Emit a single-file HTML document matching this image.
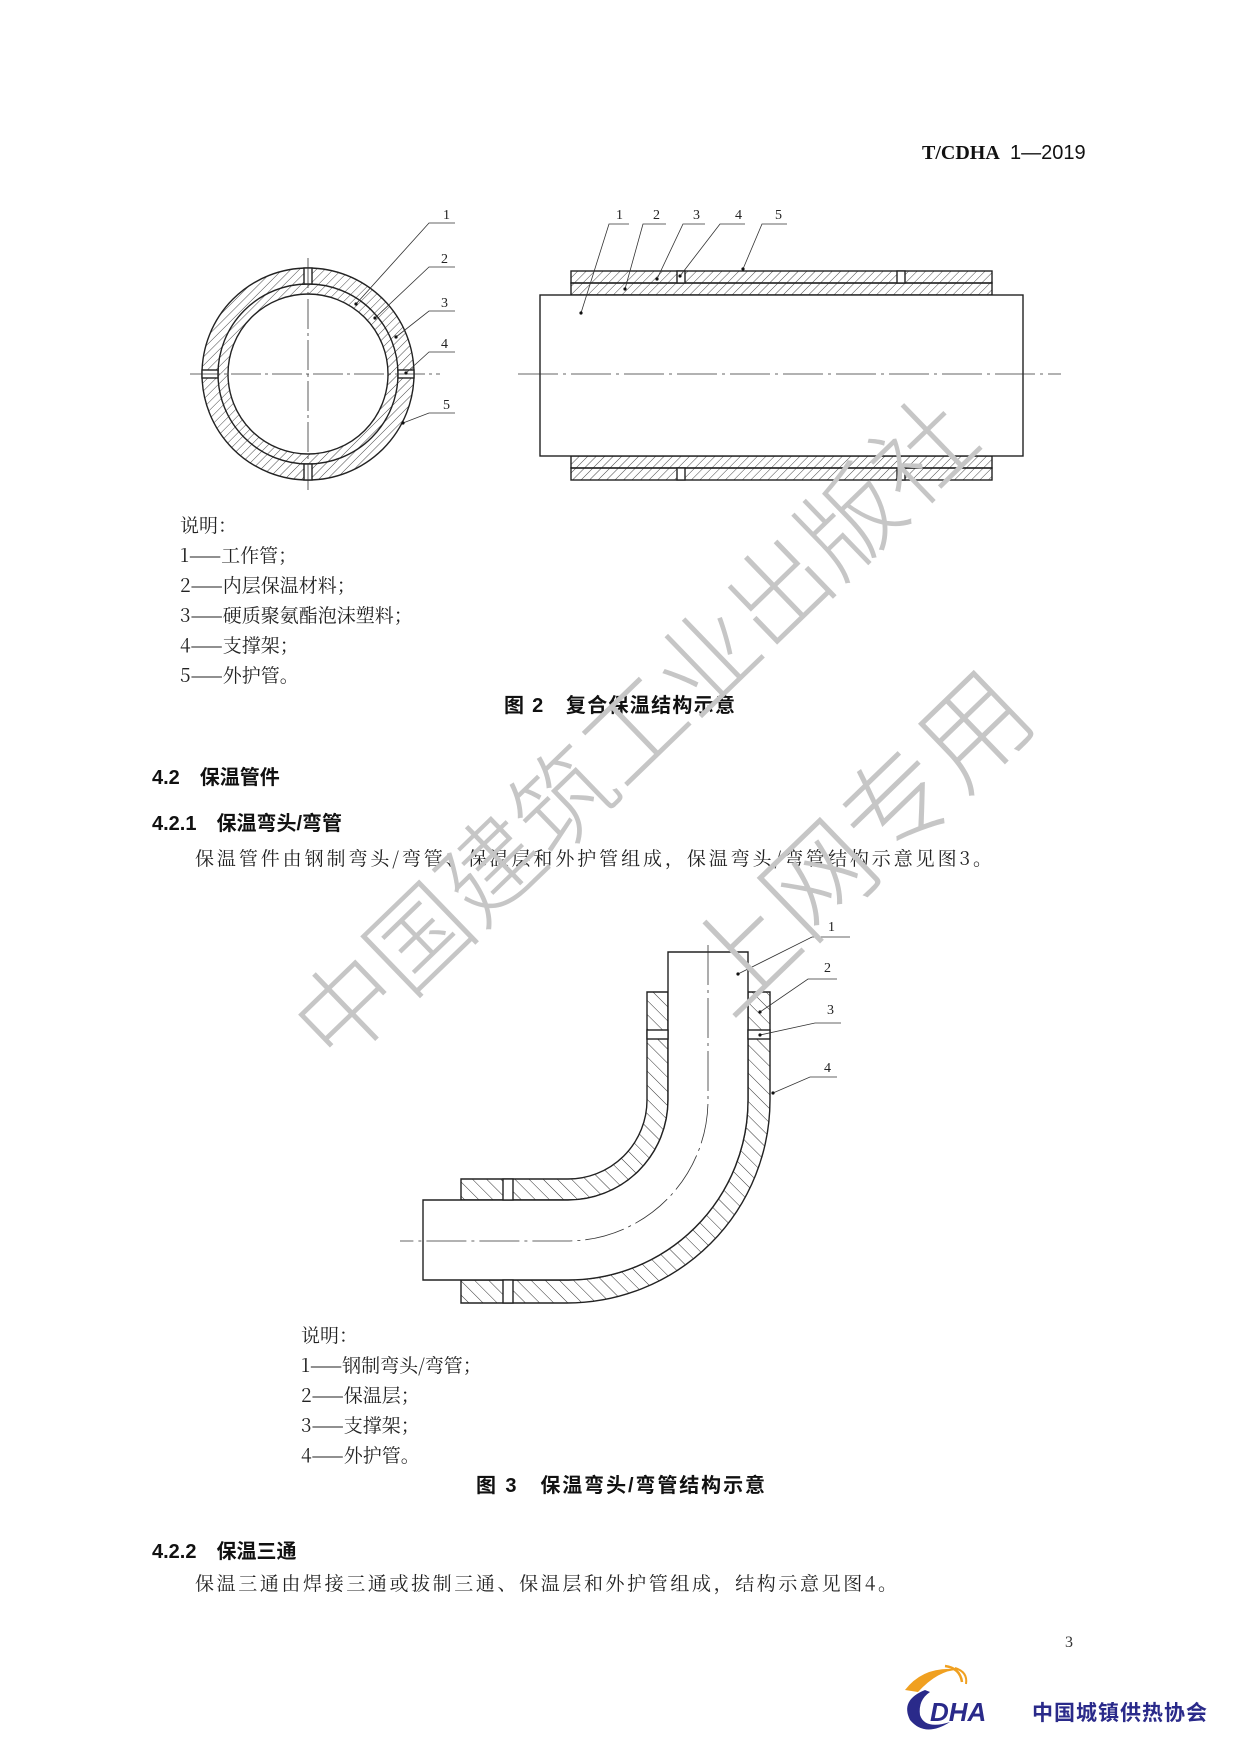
<!DOCTYPE html>
<html><head><meta charset="utf-8"><style>
html,body{margin:0;padding:0;background:#fff}
svg{display:block}
.s{font-family:"Noto Serif CJK SC","Liberation Serif",serif;font-size:19px;fill:#222}
.h{font-family:"Liberation Sans","Noto Sans CJK SC",sans-serif;font-size:20px;fill:#111;font-weight:bold}
.n{font-family:"Liberation Serif",serif;font-size:14px;fill:#222}
</style></head><body>
<svg width="1240" height="1754" viewBox="0 0 1240 1754" xmlns="http://www.w3.org/2000/svg">
<defs>
<pattern id="hf" width="6" height="6" patternUnits="userSpaceOnUse" patternTransform="rotate(45)"><line x1="0" y1="0" x2="0" y2="6" stroke="#333" stroke-width="0.9"/></pattern>
<pattern id="he" width="10" height="10" patternUnits="userSpaceOnUse" patternTransform="rotate(-45)"><line x1="0" y1="0" x2="0" y2="10" stroke="#333" stroke-width="1"/></pattern>
</defs>

<!-- header -->
<text x="922" y="159" font-family="Liberation Serif,serif" font-weight="bold" font-size="20" fill="#111">T/CDHA</text>
<text x="1010" y="159" font-family="Liberation Sans,sans-serif" font-size="20" fill="#111">1—2019</text>

<!-- Fig 2 left circle -->
<g stroke="#222" stroke-width="1.4">
<circle cx="308" cy="374" r="98" fill="none" stroke="url(#hf)" stroke-width="16"/>
<circle cx="308" cy="374" r="85" fill="none" stroke="url(#hf)" stroke-width="10"/>
<circle cx="308" cy="374" r="106" fill="none"/>
<circle cx="308" cy="374" r="90" fill="none"/>
<circle cx="308" cy="374" r="80" fill="none"/>
<rect x="304" y="268" width="8" height="16" fill="#fff"/>
<rect x="304" y="464" width="8" height="16" fill="#fff"/>
<rect x="202" y="370" width="16" height="8" fill="#fff"/>
<rect x="398" y="370" width="16" height="8" fill="#fff"/>
</g>
<g stroke="#333" stroke-width="0.8" stroke-dasharray="30,4,3,4" fill="none">
<line x1="190" y1="374" x2="440" y2="374"/>
<line x1="308" y1="258" x2="308" y2="490"/>
</g>
<g stroke="#333" stroke-width="0.8" fill="none">
<polyline points="356,304 429,223 455,223"/>
<polyline points="375,318 429,267 455,267"/>
<polyline points="396,337 429,311 455,311"/>
<polyline points="406,373 429,352 455,352"/>
<polyline points="403,423 429,413 455,413"/>
</g>
<g fill="#111"><circle cx="356" cy="304" r="1.6"/><circle cx="375" cy="318" r="1.6"/><circle cx="396" cy="337" r="1.6"/><circle cx="406" cy="373" r="1.6"/><circle cx="403" cy="423" r="1.6"/></g>
<text class="n" x="443" y="219">1</text><text class="n" x="441" y="263">2</text><text class="n" x="441" y="307">3</text><text class="n" x="441" y="348">4</text><text class="n" x="443" y="409">5</text>

<!-- Fig 2 right pipe -->
<g stroke="#222" stroke-width="1.4">
<rect x="571" y="271" width="421" height="12" fill="url(#hf)"/>
<rect x="571" y="283" width="421" height="12" fill="url(#hf)"/>
<rect x="571" y="456" width="421" height="12" fill="url(#hf)"/>
<rect x="571" y="468" width="421" height="12" fill="url(#hf)"/>
<rect x="677" y="271" width="8" height="12" fill="#fff"/>
<rect x="897" y="271" width="8" height="12" fill="#fff"/>
<rect x="677" y="468" width="8" height="12" fill="#fff"/>
<rect x="897" y="468" width="8" height="12" fill="#fff"/>
<rect x="540" y="295" width="483" height="161" fill="#fff"/>
</g>
<line x1="518" y1="374" x2="1061" y2="374" stroke="#333" stroke-width="0.8" stroke-dasharray="40,5,3,5"/>
<g stroke="#333" stroke-width="0.8" fill="none">
<polyline points="581,313 609,224 629,224"/>
<polyline points="625,289 643,224 666,224"/>
<polyline points="657,279 683,224 705,224"/>
<polyline points="680,276 720,224 745,224"/>
<polyline points="743,269 762,224 787,224"/>
</g>
<g fill="#111"><circle cx="581" cy="313" r="1.6"/><circle cx="625" cy="289" r="1.6"/><circle cx="657" cy="279" r="1.6"/><circle cx="680" cy="276" r="1.6"/><circle cx="743" cy="269" r="1.6"/></g>
<text class="n" x="616" y="219">1</text><text class="n" x="653" y="219">2</text><text class="n" x="693" y="219">3</text><text class="n" x="735" y="219">4</text><text class="n" x="775" y="219">5</text>

<!-- Fig 2 legend -->
<text class="s" x="180" y="532">说明：</text>
<text class="s" x="180" y="562">1——工作管；</text>
<text class="s" x="180" y="592">2——内层保温材料；</text>
<text class="s" x="180" y="622">3——硬质聚氨酯泡沫塑料；</text>
<text class="s" x="180" y="652">4——支撑架；</text>
<text class="s" x="180" y="682">5——外护管。</text>
<text class="h" x="504" y="712" textLength="231">图 2　复合保温结构示意</text>

<text class="h" x="152" y="784">4.2　保温管件</text>
<text class="h" x="152" y="830">4.2.1　保温弯头/弯管</text>
<text class="s" x="195" y="865" textLength="797">保温管件由钢制弯头/弯管、保温层和外护管组成，保温弯头/弯管结构示意见图3。</text>

<!-- Fig 3 elbow -->
<g stroke="#222" stroke-width="1.4">
<path d="M748,992 H770 V1100 A203,203 0 0 1 567,1303 H461 V1280 H567 A180,180 0 0 0 748,1100 Z" fill="url(#he)"/>
<path d="M647,992 H668 V1100 A100,100 0 0 1 567,1200 H461 V1179 H567 A79,79 0 0 0 647,1100 Z" fill="url(#he)"/>
<path d="M668,952 H748 V1100 A180,180 0 0 1 567,1280 H423 V1200 H567 A100,100 0 0 0 668,1100 Z" fill="#fff"/>
<rect x="647" y="1030" width="21" height="9" fill="#fff"/>
<rect x="748" y="1030" width="22" height="9" fill="#fff"/>
<rect x="503" y="1179" width="10" height="21" fill="#fff"/>
<rect x="503" y="1280" width="10" height="23" fill="#fff"/>
</g>
<path d="M708,945 V1100 A141,141 0 0 1 567,1241 H400" fill="none" stroke="#333" stroke-width="0.8" stroke-dasharray="40,5,3,5"/>
<g stroke="#333" stroke-width="0.8" fill="none">
<polyline points="738,974 812,937 850,937"/>
<polyline points="760,1012 808,979 837,979"/>
<polyline points="760,1035 815,1023 841,1023"/>
<polyline points="773,1093 810,1077 837,1077"/>
</g>
<g fill="#111"><circle cx="738" cy="974" r="1.6"/><circle cx="760" cy="1012" r="1.6"/><circle cx="760" cy="1035" r="1.6"/><circle cx="773" cy="1093" r="1.6"/></g>
<text class="n" x="828" y="931">1</text><text class="n" x="824" y="972">2</text><text class="n" x="827" y="1014">3</text><text class="n" x="824" y="1072">4</text>

<!-- Fig 3 legend -->
<text class="s" x="301" y="1342">说明：</text>
<text class="s" x="301" y="1372">1——钢制弯头/弯管；</text>
<text class="s" x="301" y="1402">2——保温层；</text>
<text class="s" x="301" y="1432">3——支撑架；</text>
<text class="s" x="301" y="1462">4——外护管。</text>
<text class="h" x="476" y="1492" textLength="289">图 3　保温弯头/弯管结构示意</text>

<text class="h" x="152" y="1558">4.2.2　保温三通</text>
<text class="s" x="195" y="1590" textLength="702">保温三通由焊接三通或拔制三通、保温层和外护管组成，结构示意见图4。</text>

<text x="1065" y="1647" font-family="Liberation Serif,serif" font-size="16" fill="#333">3</text>

<!-- logo -->
<path d="M905,1690 Q925,1664 962,1670 Q940,1668 918,1692 Z" fill="#f0a020"/>
<path d="M945,1666 Q960,1668 962,1682" fill="none" stroke="#f0a020" stroke-width="2.5"/>
<path d="M955,1668 Q968,1672 966,1684" fill="none" stroke="#f0a020" stroke-width="2"/>
<path d="M925,1690 Q900,1700 910,1720 Q925,1738 950,1722 Q925,1730 920,1715 Q918,1700 930,1692 Z" fill="#2a2a8a"/>
<text x="930" y="1721" font-family="Liberation Sans,sans-serif" font-weight="bold" font-style="italic" font-size="26" fill="#2a2a8a">DHA</text>
<text x="1032" y="1720" font-family="Liberation Sans,'Noto Sans CJK SC',sans-serif" font-weight="bold" font-size="21" fill="#2a2a8a" textLength="175">中国城镇供热协会</text>

<!-- watermark -->
<g font-family="'Noto Sans CJK SC',sans-serif" fill="#c6c6c6" font-weight="300">
<text x="0" y="0" font-size="100" text-anchor="middle" transform="translate(660,756) rotate(-44)">中国建筑工业出版社</text>
<text x="0" y="0" font-size="108" text-anchor="middle" transform="translate(885,870) rotate(-44)">上网专用</text>
</g>
</svg>
</body></html>
